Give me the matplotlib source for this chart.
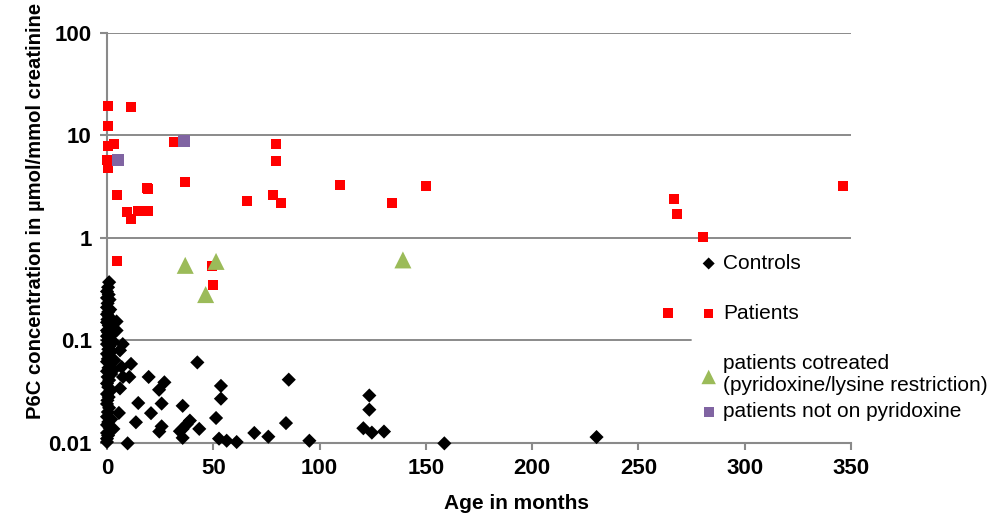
import numpy as np
import matplotlib.pyplot as plt
from matplotlib.ticker import FixedLocator, FixedFormatter, NullLocator

# controls (age in months, P6C)
ctrl_age = [1.0, 0.5, 0, 0.8, 0, 1.2, 0.3, 0, 1.5, 0.6, 0, 1.0, 0.2, 2.0, 0, 0.8, 1.5, 0,
            0.5, 2.5, 0, 1.0, 0.3, 3.0, 0, 1.2, 0.6, 2.0, 0, 1.0, 0.4, 3.5, 0, 1.5, 0.7, 0,
            2.0, 0.3, 1.0, 0, 0.6, 1.5, 0, 0.8, 0.2, 0, 1.0, 0.4, 0, 2.0, 0.6, 0, 1.2, 0,
            0.5, 0, 0,
            4.5, 4.5, 7.4, 6.1, 11.3, 6.9, 2.8, 10.5, 7.5, 6.1, 5.6, 3.0, 9.7,
            19.6, 27.0, 24.5, 42.5, 53.6, 53.6, 14.7, 25.7, 35.6, 20.7, 13.6, 51.3,
            25.7, 24.6, 39.0, 37.5, 35.6, 34.3, 43.4, 35.6, 52.7, 56.3, 61.0, 69.3,
            75.9, 85.5, 84.2, 95.2, 123.4, 123.4, 120.6, 124.6, 130.3, 158.7, 230.3]
ctrl_p6c = [0.37, 0.33, 0.30, 0.28, 0.26, 0.25, 0.23, 0.21, 0.20, 0.19, 0.18, 0.17, 0.16,
            0.155, 0.15, 0.14, 0.13, 0.125, 0.12, 0.115, 0.11, 0.105, 0.10, 0.097, 0.092,
            0.088, 0.082, 0.078, 0.074, 0.07, 0.066, 0.064, 0.062, 0.058, 0.054, 0.05,
            0.047, 0.044, 0.041, 0.038, 0.035, 0.032, 0.030, 0.028, 0.026, 0.024, 0.022,
            0.020, 0.018, 0.017, 0.016, 0.015, 0.014, 0.0125, 0.0118, 0.011, 0.0102,
            0.153, 0.125, 0.092, 0.08, 0.059, 0.055, 0.051, 0.044, 0.044, 0.034, 0.0196,
            0.0137, 0.0099,
            0.044, 0.039, 0.033, 0.061, 0.036, 0.027, 0.0245, 0.0242, 0.023, 0.0195,
            0.0159, 0.0175, 0.0145, 0.0129, 0.0165, 0.0152, 0.0137, 0.013, 0.0137, 0.0112,
            0.011, 0.0105, 0.0102, 0.0125, 0.0115, 0.0414, 0.0156, 0.0105, 0.029, 0.0211,
            0.0139, 0.0126, 0.0129, 0.0099, 0.0114]

# patients
pat_age = [0.5, 0.5, 0.5, 3.3, 0.1, 0.5, 11.4, 31.5, 36.8, 4.8, 18.7, 19.4, 9.5, 14.7,
           19.4, 11.4, 66.0, 4.8, 49.2, 50.0, 79.6, 79.6, 109.7, 150.2, 78.2, 82.0,
           134.2, 266.8, 268.2, 280.5, 346.3, 264.0]
pat_p6c = [19.4, 12.3, 7.9, 8.2, 5.7, 4.8, 18.8, 8.6, 3.5, 2.6, 3.05, 2.98, 1.78, 1.82,
           1.82, 1.52, 2.28, 0.59, 0.53, 0.35, 8.2, 5.6, 3.27, 3.2, 2.6, 2.18, 2.18,
           2.39, 1.70, 1.02, 3.2, 0.184]

# patients cotreated (pyridoxine/lysine restriction)
cot_age = [36.8, 51.3, 46.4, 139.2]
cot_p6c = [0.54, 0.59, 0.28, 0.61]

# patients not on pyridoxine
nopyr_age = [5.2, 36.2]
nopyr_p6c = [5.8, 8.8]

yticks = [0.01, 0.1, 1, 10, 100]
ytick_labels = ['0.01', '0.1', '1', '10', '100']
xticks = [0, 50, 100, 150, 200, 250, 300, 350]

plt.rcParams['font.family'] = ['Liberation Sans', 'DejaVu Sans']
fig = plt.figure(figsize=(10, 5.15), dpi=100)
ax = fig.add_axes([0.107, 0.140, 0.744, 0.796])

grey = '#8a8a8a'
ax.scatter(ctrl_age, ctrl_p6c, marker='D', s=52, color='black', edgecolors='none',
           clip_on=False, zorder=3, label='Controls')
ax.scatter(pat_age, pat_p6c, marker='s', s=52, color='#ff0000', edgecolors='none',
           clip_on=False, zorder=3, label='Patients')
ax.scatter(cot_age, cot_p6c, marker='^', s=150, color='#9bbb59', edgecolors='none',
           clip_on=False, zorder=4,
           label='patients cotreated\n(pyridoxine/lysine restriction)')
ax.scatter(nopyr_age, nopyr_p6c, marker='s', s=75, color='#8064a2', edgecolors='none',
           clip_on=False, zorder=4, label='patients not on pyridoxine')

ax.set_yscale('log')
ax.set_xlim(0, 350)
ax.set_ylim(0.01, 100)
ax.yaxis.set_major_locator(FixedLocator(yticks))
ax.yaxis.set_major_formatter(FixedFormatter(ytick_labels))
ax.yaxis.set_minor_locator(NullLocator())
ax.set_xticks(xticks)

for y in yticks[1:]:
    ax.axhline(y, color=grey, lw=1.4, zorder=1)

for s in ['top', 'right']:
    ax.spines[s].set_visible(False)
for s in ['left', 'bottom']:
    ax.spines[s].set_color(grey)
    ax.spines[s].set_linewidth(1.5)
ax.tick_params(axis='both', colors=grey, width=1.5, length=5, labelcolor='black',
               labelsize=16, pad=6)
for lab in ax.get_xticklabels() + ax.get_yticklabels():
    lab.set_fontweight('bold')

ax.set_xlabel('Age in months', fontsize=15, fontweight='bold')
ax.set_ylabel('P6C concentration in µmol/mmol creatinine', fontsize=14.6, fontweight='bold')
ax.xaxis.set_label_coords(0.551, -0.125)
ax.yaxis.set_label_coords(-0.083, 0.566)

handles, labels = ax.get_legend_handles_labels()
leg1 = fig.legend(handles[:3], labels[:3], loc='upper left', bbox_to_anchor=(0.692, 0.515),
                  fontsize=15, frameon=True, facecolor='white', edgecolor='white',
                  framealpha=1, fancybox=False, borderpad=0.2, borderaxespad=0,
                  handlelength=1.2, handletextpad=0.1, labelspacing=1.5, markerscale=0.85)
leg2 = fig.legend(handles[3:], labels[3:], loc='upper left', bbox_to_anchor=(0.692, 0.227),
                  fontsize=15, frameon=True, facecolor='white', edgecolor='white',
                  framealpha=1, fancybox=False, borderpad=0.2, borderaxespad=0,
                  handlelength=1.2, handletextpad=0.1, markerscale=0.85)
fig.add_artist(leg1)

fig.savefig('out.png', dpi=100)
